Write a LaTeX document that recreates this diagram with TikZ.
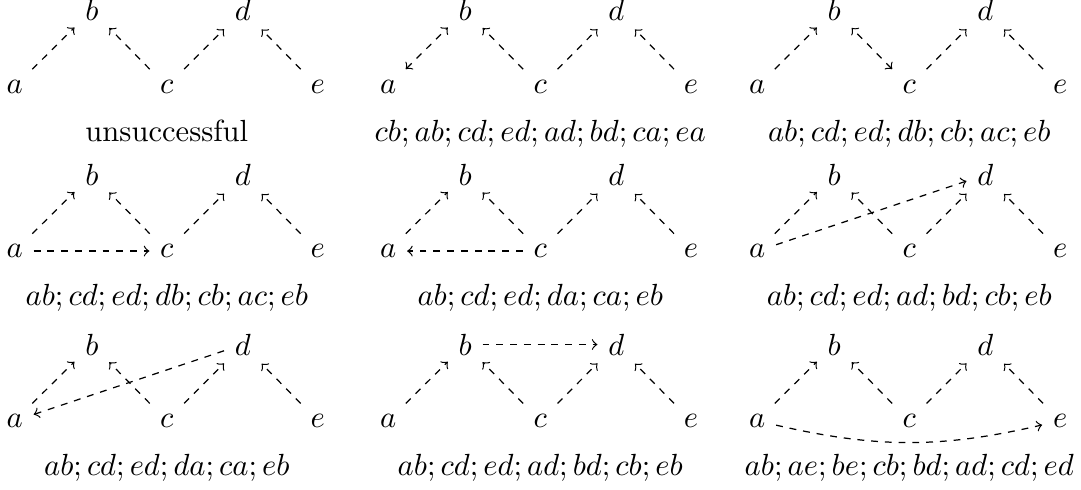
\documentclass[tikz,border=0pt]{standalone}
\begin{document}
\begin{tikzpicture}[
		every node/.style={anchor=base, font=\normalsize},
		dotline/.style={dash pattern=on 2.25pt off 2.25pt},
		link/.style={->, dotline},
	]
	\useasboundingbox (0,0) rectangle (12.42,-5.62);
	
	% five vertices per panel, panels read left to right, top to bottom
	\foreach \p/\x/\y/\ab/\cb in {1/0.17/-1.07/->/->, 2/4.46/-1.07/<->/->, 3/8.70/-1.07/->/<->,
		4/0.17/-2.96/->/->, 5/4.46/-2.96/->/->, 6/8.70/-2.96/->/->,
		7/0.17/-4.91/->/->, 8/4.46/-4.91/->/->, 9/8.70/-4.91/->/->} {
		\begin{scope}[shift={(\x,\y)}]
			\node (a\p) at (0,0) {$a$};
			\node (b\p) at (0.885,0.83) {$b$};
			\node (c\p) at (1.747,0) {$c$};
			\node (d\p) at (2.62,0.83) {$d$};
			\node (e\p) at (3.48,0) {$e$};
		\end{scope}
		\draw[dotline, \ab] (a\p) -- (b\p);
		\draw[dotline, \cb] (c\p) -- (b\p);
		\draw[link] (c\p) -- (d\p);
		\draw[link] (e\p) -- (d\p);
	}
	
	% extra arcs
	\draw[link] (a4) -- (c4);
	\draw[link] (c5) -- (a5);
	\draw[link] (a6) -- (d6);
	\draw[link] (d7) -- (a7);
	\draw[link] (b8) -- (d8);
	\draw[link] (a9) to[bend right=13] (e9);
	
	% captions
	\node (lab1) at (1.917,-1.62) {unsuccessful};
	\node (lab2) at (6.207,-1.62) {$cb; ab; cd; ed; ad; bd; ca; ea$};
	\node (lab3) at (10.447,-1.62) {$ab; cd; ed; db; cb; ac; eb$};
	\node (lab4) at (1.917,-3.51) {$ab; cd; ed; db; cb; ac; eb$};
	\node (lab5) at (6.207,-3.51) {$ab; cd; ed; da; ca; eb$};
	\node (lab6) at (10.447,-3.51) {$ab; cd; ed; ad; bd; cb; eb$};
	\node (lab7) at (1.917,-5.46) {$ab; cd; ed; da; ca; eb$};
	\node (lab8) at (6.207,-5.46) {$ab; cd; ed; ad; bd; cb; eb$};
	\node (lab9) at (10.447,-5.46) {$ab; ae; be; cb; bd; ad; cd; ed$};
\end{tikzpicture}
\end{document}
